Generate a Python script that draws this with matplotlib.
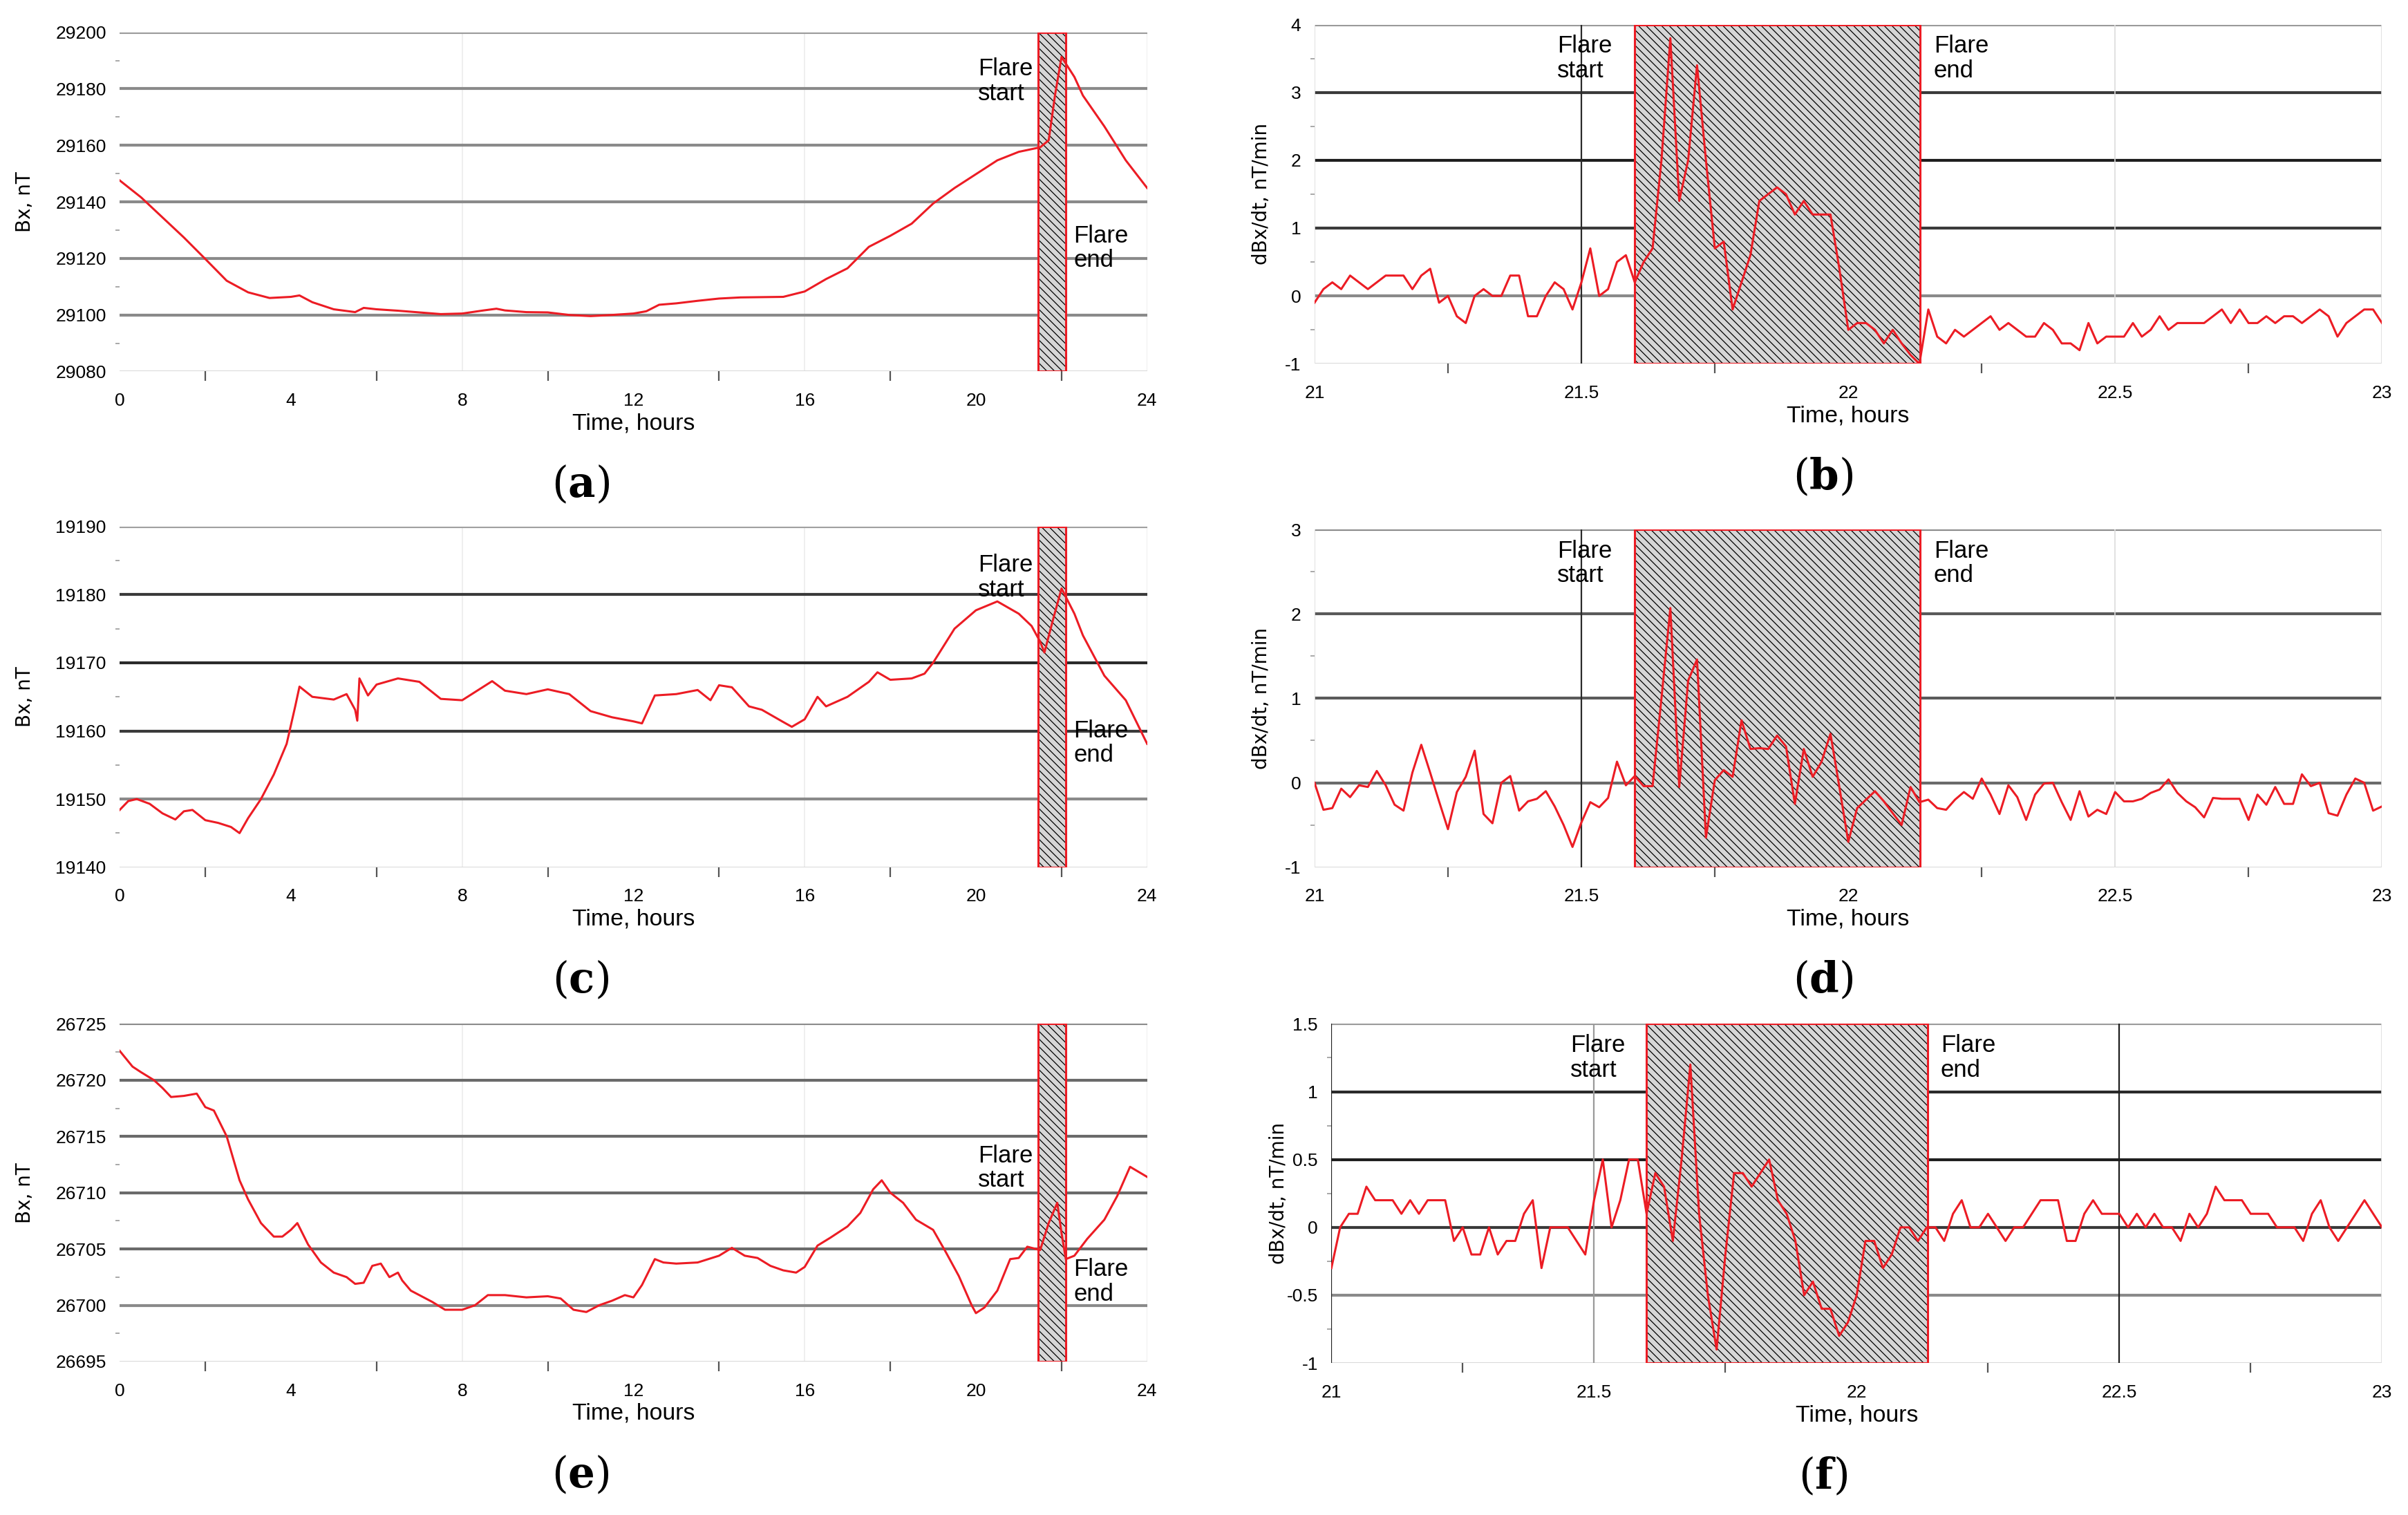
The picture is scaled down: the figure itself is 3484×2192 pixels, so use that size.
import numpy as np
import matplotlib
matplotlib.use("Agg")
from matplotlib import pyplot as plt
from matplotlib.patches import Rectangle
from matplotlib.ticker import FixedLocator, FuncFormatter

plt.rcParams["font.family"] = ["Liberation Sans", "DejaVu Sans"]
plt.rcParams["axes.unicode_minus"] = False
plt.rcParams["hatch.linewidth"] = 0.45
plt.rcParams["mathtext.fontset"] = "dejavuserif"

# ---- Bx over the day (hours, nT) ----
t_a = [0.0, 0.5, 1.0, 1.5, 2.0, 2.5, 3.0, 3.5, 4.0, 4.2, 4.5, 5.0, 5.5, 5.7, 6.0,
       6.5, 7.0, 7.5, 8.0, 8.5, 8.8, 9.0, 9.5, 10.0, 10.5, 11.0, 11.5, 12.0, 12.3,
       12.6, 13.0, 13.5, 14.0, 14.5, 15.0, 15.5, 16.0, 16.5, 17.0, 17.5, 18.0, 18.5,
       19.0, 19.5, 20.0, 20.5, 21.0, 21.5, 21.7, 21.85, 22.0, 22.3, 22.5, 23.0, 23.5, 24.0]
bx_a = [29147.6, 29141.6, 29134.5, 29127.4, 29119.8, 29112.1, 29108.0, 29106.0, 29106.4,
        29106.9, 29104.5, 29102.0, 29101.0, 29102.5, 29102.0, 29101.5, 29100.9, 29100.3,
        29100.5, 29101.6, 29102.2, 29101.6, 29101.0, 29100.9, 29100.0, 29099.6, 29100.0,
        29100.5, 29101.3, 29103.6, 29104.1, 29105.0, 29105.8, 29106.2, 29106.3, 29106.4,
        29108.3, 29112.7, 29116.5, 29124.1, 29128.0, 29132.3, 29139.4, 29144.9, 29149.8,
        29154.7, 29157.7, 29159.3, 29161.8, 29178.0, 29191.3, 29184.2, 29177.6, 29166.7,
        29154.7, 29144.9]

t_c = [0.0, 0.2, 0.4, 0.7, 1.0, 1.3, 1.5, 1.7, 2.0, 2.3, 2.6, 2.8, 3.0, 3.3, 3.6, 3.9,
       4.1, 4.2, 4.5, 5.0, 5.3, 5.5, 5.55, 5.6, 5.8, 6.0, 6.5, 7.0, 7.5, 8.0, 8.5, 8.7,
       9.0, 9.5, 10.0, 10.5, 11.0, 11.5, 12.0, 12.2, 12.5, 13.0, 13.5, 13.8, 14.0, 14.3,
       14.7, 15.0, 15.5, 15.7, 16.0, 16.3, 16.5, 17.0, 17.5, 17.7, 18.0, 18.5, 18.8,
       19.0, 19.5, 20.0, 20.5, 21.0, 21.3, 21.5, 21.6, 21.8, 22.0, 22.3, 22.5, 23.0,
       23.5, 24.0]
bx_c = [19148.4, 19149.7, 19150.0, 19149.3, 19147.9, 19147.0, 19148.2, 19148.4, 19146.9,
        19146.5, 19145.9, 19145.0, 19147.2, 19150.0, 19153.6, 19158.1, 19163.6, 19166.5,
        19165.0, 19164.6, 19165.4, 19163.1, 19161.5, 19167.7, 19165.2, 19166.8, 19167.7,
        19167.2, 19164.7, 19164.5, 19166.5, 19167.3, 19165.9, 19165.4, 19166.1, 19165.4,
        19162.9, 19162.0, 19161.4, 19161.1, 19165.2, 19165.4, 19166.0, 19164.5, 19166.7,
        19166.4, 19163.6, 19163.1, 19161.3, 19160.6, 19161.7, 19165.0, 19163.6, 19165.0,
        19167.2, 19168.6, 19167.5, 19167.7, 19168.4, 19170.0, 19175.0, 19177.7, 19179.0,
        19177.2, 19175.4, 19173.1, 19171.5, 19176.3, 19180.9, 19177.2, 19174.0, 19168.1,
        19164.5, 19158.1]

t_e = [0.0, 0.3, 0.5, 0.8, 1.0, 1.2, 1.5, 1.8, 2.0, 2.2, 2.5, 2.8, 3.0, 3.3, 3.6, 3.8,
       4.0, 4.15, 4.4, 4.7, 5.0, 5.3, 5.5, 5.7, 5.9, 6.1, 6.3, 6.5, 6.6, 6.8, 7.0, 7.3,
       7.6, 8.0, 8.3, 8.6, 9.0, 9.5, 10.0, 10.3, 10.6, 10.9, 11.2, 11.5, 11.8, 12.0,
       12.2, 12.5, 12.7, 13.0, 13.5, 14.0, 14.3, 14.6, 14.9, 15.2, 15.5, 15.8, 16.0,
       16.3, 16.6, 17.0, 17.3, 17.6, 17.8, 18.0, 18.3, 18.6, 19.0, 19.3, 19.6, 19.9,
       20.0, 20.2, 20.5, 20.8, 21.0, 21.2, 21.5, 21.7, 21.9, 22.0, 22.1, 22.3, 22.6,
       23.0, 23.3, 23.6, 24.0]
bx_e = [26722.6, 26721.2, 26720.7, 26720.0, 26719.3, 26718.5, 26718.6, 26718.8, 26717.6,
        26717.3, 26715.0, 26711.1, 26709.4, 26707.3, 26706.1, 26706.1, 26706.7, 26707.3,
        26705.4, 26703.8, 26702.9, 26702.5, 26701.9, 26702.0, 26703.5, 26703.7, 26702.5,
        26702.9, 26702.2, 26701.3, 26700.9, 26700.3, 26699.6, 26699.6, 26700.0, 26700.9,
        26700.9, 26700.7, 26700.8, 26700.6, 26699.6, 26699.4, 26700.0, 26700.4, 26700.9,
        26700.7, 26701.8, 26704.1, 26703.8, 26703.7, 26703.8, 26704.4, 26705.1, 26704.4,
        26704.2, 26703.5, 26703.1, 26702.9, 26703.4, 26705.3, 26706.0, 26707.0, 26708.2,
        26710.3, 26711.1, 26710.0, 26709.1, 26707.6, 26706.7, 26704.7, 26702.6, 26700.0,
        26699.3, 26699.8, 26701.3, 26704.1, 26704.2, 26705.2, 26704.9, 26707.3, 26709.1,
        26706.4, 26704.1, 26704.4, 26705.9, 26707.6, 26709.7, 26712.3, 26711.4]

# ---- dBx/dt, one value per minute from 21:00 to 23:00 (nT/min) ----
t_deriv = 21 + np.arange(121) / 60.0
dbdt_b = [-0.1, 0.1, 0.2, 0.1, 0.3, 0.2, 0.1, 0.2, 0.3, 0.3,
          0.3, 0.1, 0.3, 0.4, -0.1, 0.0, -0.3, -0.4, 0.0, 0.1,
          0.0, 0.0, 0.3, 0.3, -0.3, -0.3, 0.0, 0.2, 0.1, -0.2,
          0.2, 0.7, 0.0, 0.1, 0.5, 0.6, 0.2, 0.5, 0.7, 2.0,
          3.8, 1.4, 2.0, 3.4, 2.0, 0.7, 0.8, -0.2, 0.2, 0.6,
          1.4, 1.5, 1.6, 1.5, 1.2, 1.4, 1.2, 1.2, 1.2, 0.4,
          -0.5, -0.4, -0.4, -0.5, -0.7, -0.5, -0.7, -0.87, -1.0, -0.2,
          -0.6, -0.7, -0.5, -0.6, -0.5, -0.4, -0.3, -0.5, -0.4, -0.5,
          -0.6, -0.6, -0.4, -0.5, -0.7, -0.7, -0.8, -0.4, -0.7, -0.6,
          -0.6, -0.6, -0.4, -0.6, -0.5, -0.3, -0.5, -0.4, -0.4, -0.4,
          -0.4, -0.3, -0.2, -0.4, -0.2, -0.4, -0.4, -0.3, -0.4, -0.3,
          -0.3, -0.4, -0.3, -0.2, -0.3, -0.6, -0.4, -0.3, -0.2, -0.2, -0.4]
dbdt_d = [0.0, -0.32, -0.3, -0.07, -0.17, -0.03, -0.05, 0.14, -0.03, -0.26,
          -0.33, 0.12, 0.45, 0.12, -0.22, -0.55, -0.11, 0.07, 0.38, -0.37,
          -0.48, 0.0, 0.08, -0.33, -0.22, -0.19, -0.1, -0.28, -0.5, -0.76,
          -0.47, -0.23, -0.29, -0.18, 0.25, -0.03, 0.08, -0.04, -0.04, 1.0,
          2.07, -0.05, 1.21, 1.46, -0.65, 0.03, 0.15, 0.07, 0.74, 0.4,
          0.41, 0.4, 0.56, 0.43, -0.25, 0.4, 0.07, 0.25, 0.58, -0.05,
          -0.7, -0.3, -0.2, -0.1, -0.22, -0.36, -0.5, -0.05, -0.23, -0.2,
          -0.3, -0.32, -0.2, -0.11, -0.19, 0.05, -0.14, -0.37, -0.03, -0.17,
          -0.44, -0.14, -0.01, 0.0, -0.23, -0.44, -0.1, -0.4, -0.32, -0.37,
          -0.11, -0.22, -0.22, -0.19, -0.12, -0.08, 0.04, -0.12, -0.22, -0.29,
          -0.41, -0.18, -0.19, -0.19, -0.19, -0.44, -0.14, -0.26, -0.05, -0.25,
          -0.25, 0.1, -0.04, 0.0, -0.36, -0.39, -0.14, 0.05, 0.0, -0.33, -0.28]
dbdt_f = [-0.3, 0.0, 0.1, 0.1, 0.3, 0.2, 0.2, 0.2, 0.1, 0.2,
          0.1, 0.2, 0.2, 0.2, -0.1, 0.0, -0.2, -0.2, 0.0, -0.2,
          -0.1, -0.1, 0.1, 0.2, -0.3, 0.0, 0.0, 0.0, -0.1, -0.2,
          0.2, 0.5, 0.0, 0.2, 0.5, 0.5, 0.1, 0.4, 0.3, -0.1,
          0.5, 1.2, 0.1, -0.5, -0.9, -0.2, 0.4, 0.4, 0.3, 0.4,
          0.5, 0.2, 0.1, -0.1, -0.5, -0.4, -0.6, -0.6, -0.8, -0.7,
          -0.5, -0.1, -0.1, -0.3, -0.2, 0.0, 0.0, -0.1, 0.0, 0.0,
          -0.1, 0.1, 0.2, 0.0, 0.0, 0.1, 0.0, -0.1, 0.0, 0.0,
          0.1, 0.2, 0.2, 0.2, -0.1, -0.1, 0.1, 0.2, 0.1, 0.1,
          0.1, 0.0, 0.1, 0.0, 0.1, 0.0, 0.0, -0.1, 0.1, 0.0,
          0.1, 0.3, 0.2, 0.2, 0.2, 0.1, 0.1, 0.1, 0.0, 0.0,
          0.0, -0.1, 0.1, 0.2, 0.0, -0.1, 0.0, 0.1, 0.2, 0.1, 0.0]

flare_day = (21.45, 22.1)
flare_zoom = (21.6, 22.135)

RED = "#ec1c24"
fmt = FuncFormatter(lambda v, p: "%g" % v)

fig = plt.figure(figsize=(17.42, 10.96), dpi=200)


def hatch_box(ax, x0, x1, y0, y1):
    ax.add_patch(Rectangle((x0, y0), x1 - x0, y1 - y0, facecolor="#d6d6d6",
                           edgecolor="black", hatch="\\" * 6, lw=0, zorder=2))
    ax.add_patch(Rectangle((x0, y0), x1 - x0, y1 - y0, fill=False,
                           edgecolor=RED, lw=1.1, zorder=3))


def base(ax, xlim, ylim, yt, hcolors, xt, xminor, ylabel, ylab_x):
    ax.set_xlim(*xlim)
    ax.set_ylim(*ylim)
    for sp in ax.spines.values():
        sp.set_visible(False)
    for y, c in zip(yt, hcolors):
        lw = 1.0 if c == "#d4d4d4" else 1.5
        ax.axhline(y, color=c, lw=lw, zorder=1)
    ax.set_yticks(yt)
    ax.yaxis.set_major_formatter(fmt)
    ax.yaxis.set_minor_locator(FixedLocator([(a + b) / 2 for a, b in zip(yt[:-1], yt[1:])]))
    ax.set_xticks(xt)
    ax.xaxis.set_major_formatter(fmt)
    ax.xaxis.set_minor_locator(FixedLocator(xminor))
    ax.tick_params(axis="both", which="major", length=0, labelsize=9.5, colors="black")
    ax.tick_params(axis="x", which="major", pad=11)
    ax.tick_params(axis="y", which="major", pad=7)
    ax.tick_params(axis="x", which="minor", length=5, width=0.8, color="#555555", direction="out")
    ax.tick_params(axis="y", which="minor", length=2, width=0.6, color="#999999", direction="out")
    ax.set_xlabel("Time, hours", fontsize=12.2)
    ax.xaxis.set_label_coords(0.5, -0.122)
    ax.set_ylabel(ylabel, fontsize=10, family="DejaVu Sans")
    ax.yaxis.set_label_coords(ylab_x, 0.5)


def day_panel(rect, t, bx, ylim, yt, hcolors, start_y, end_y, tag):
    ax = fig.add_axes(rect)
    base(ax, (0, 24), ylim, yt, hcolors, [0, 4, 8, 12, 16, 20, 24],
         [2, 6, 10, 14, 18, 22], "Bx, nT", -0.083)
    for x in (8, 16, 24):
        ax.axvline(x, color="#ececec", lw=0.6, zorder=0.5)
    hatch_box(ax, flare_day[0], flare_day[1], ylim[0], ylim[1])
    ax.plot(t, bx, color=RED, lw=1.1, zorder=4)
    ax.text(20.05, start_y, "Flare\nstart", fontsize=12.5, ha="left", va="top",
            linespacing=1.1, zorder=5)
    ax.text(22.28, end_y, "Flare\nend", fontsize=12.5, ha="left", va="top",
            linespacing=1.1, zorder=5)
    fig.text(0.2411, rect[1] - 0.075, r"$(\mathbf{%s})$" % tag,
             fontsize=22, ha="center", va="center")
    return ax


def zoom_panel(rect, vals, ylim, yt, hcolors, vcolors, tag):
    ax = fig.add_axes(rect)
    base(ax, (21, 23), ylim, yt, hcolors, [21, 21.5, 22, 22.5, 23],
         [21.25, 21.75, 22.25, 22.75], "dBx/dt, nT/min", -0.041)
    for x, c in zip([21, 21.5, 22, 22.5, 23], vcolors):
        ax.axvline(x, color=c, lw=0.8 if c != "#dcdcdc" else 0.6, zorder=1)
    hatch_box(ax, flare_zoom[0], flare_zoom[1], ylim[0], ylim[1])
    ax.plot(t_deriv, vals, color=RED, lw=1.1, zorder=4)
    span = ylim[1] - ylim[0]
    ax.text(21.455, ylim[1] - 0.03 * span, "Flare\nstart", fontsize=12.5, ha="left",
            va="top", linespacing=1.1, zorder=5)
    ax.text(22.16, ylim[1] - 0.03 * span, "Flare\nend", fontsize=12.5, ha="left",
            va="top", linespacing=1.1, zorder=5)
    fig.text(0.757, rect[1] - 0.075, r"$(\mathbf{%s})$" % tag,
             fontsize=22, ha="center", va="center")
    return ax


day_panel([0.0497, 0.7548, 0.4267, 0.2239], t_a, bx_a, (29080, 29200),
          [29080, 29100, 29120, 29140, 29160, 29180, 29200],
          ["#d4d4d4", "#8a8a8a", "#8a8a8a", "#8a8a8a", "#8a8a8a", "#8a8a8a", "#9a9a9a"],
          29191, 29132, "a")
day_panel([0.0497, 0.4276, 0.4267, 0.2249], t_c, bx_c, (19140, 19190),
          [19140, 19150, 19160, 19170, 19180, 19190],
          ["#d4d4d4", "#8a8a8a", "#3a3a3a", "#2a2a2a", "#3a3a3a", "#a0a0a0"],
          19186, 19161.7, "c")
day_panel([0.0497, 0.1013, 0.4267, 0.2229], t_e, bx_e, (26695, 26725),
          [26695, 26700, 26705, 26710, 26715, 26720, 26725],
          ["#d4d4d4", "#8a8a8a", "#6a6a6a", "#6a6a6a", "#6a6a6a", "#6a6a6a", "#8a8a8a"],
          26714.3, 26704.2, "e")

zoom_panel([0.5459, 0.7599, 0.4433, 0.2239], dbdt_b, (-1, 4), [-1, 0, 1, 2, 3, 4],
           ["#d4d4d4", "#8a8a8a", "#3a3a3a", "#1e1e1e", "#3a3a3a", "#9a9a9a"],
           ["#dcdcdc", "#2a2a2a", "#2a2a2a", "#dcdcdc", "#dcdcdc"], "b")
zoom_panel([0.5459, 0.4276, 0.4433, 0.2229], dbdt_d, (-1, 3), [-1, 0, 1, 2, 3],
           ["#d4d4d4", "#6a6a6a", "#5a5a5a", "#5a5a5a", "#8a8a8a"],
           ["#dcdcdc", "#2a2a2a", "#2a2a2a", "#dcdcdc", "#dcdcdc"], "d")
zoom_panel([0.5529, 0.1003, 0.4363, 0.2239], dbdt_f, (-1, 1.5),
           [-1, -0.5, 0, 0.5, 1, 1.5],
           ["#d4d4d4", "#8a8a8a", "#3a3a3a", "#1e1e1e", "#2a2a2a", "#9a9a9a"],
           ["#1e1e1e", "#9a9a9a", "#b0b0b0", "#1e1e1e", "#dcdcdc"], "f")

fig.savefig("out.png", dpi=200, facecolor="white")
